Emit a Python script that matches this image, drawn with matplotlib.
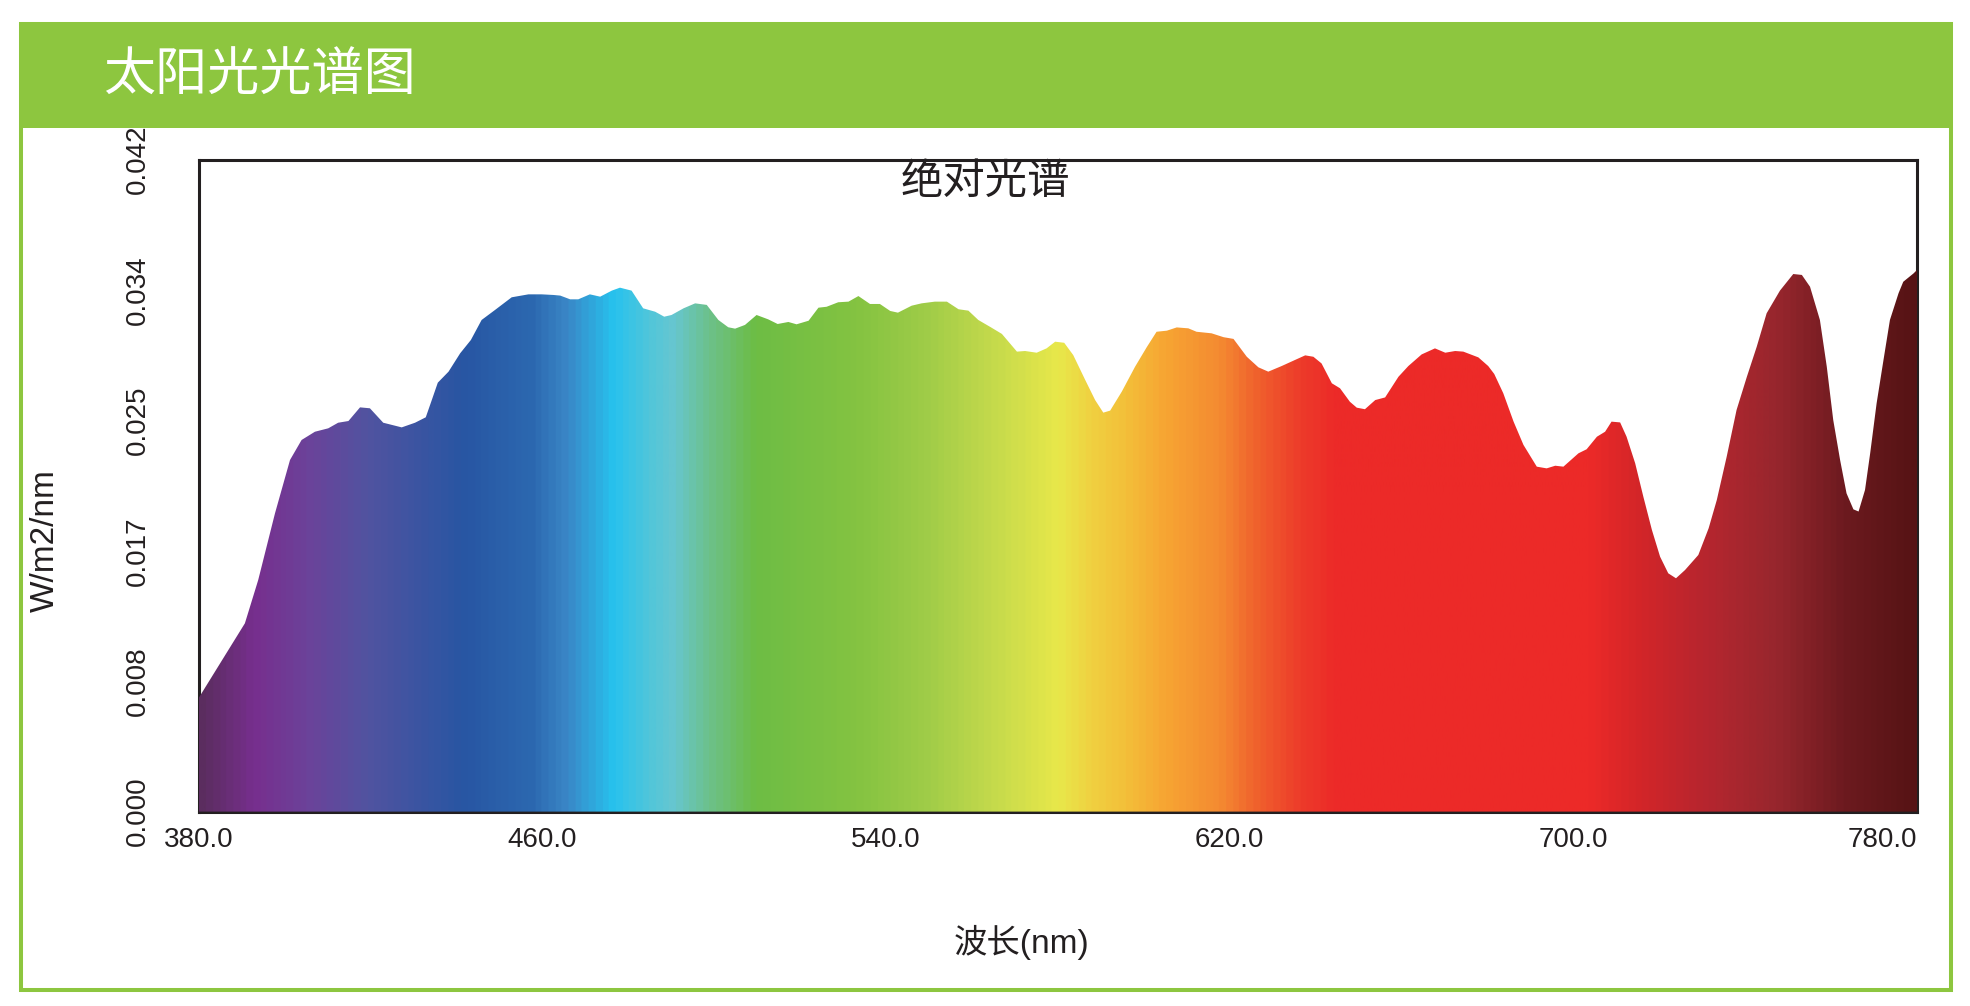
import numpy as np
import matplotlib
matplotlib.use("Agg")
import matplotlib.pyplot as plt
from matplotlib.colors import LinearSegmentedColormap
from matplotlib.patches import Polygon, Rectangle
from matplotlib.ticker import FormatStrFormatter

# Solar spectrum (nm, W/m2/nm)
wavelength = [
    380.0, 390.8, 393.9, 397.8, 401.3, 404.0, 407.1, 410.2, 412.5, 414.9,
    417.6, 419.9, 423.0, 427.3, 430.4, 432.9, 434.3, 435.7, 438.2, 440.9,
    443.4, 445.9, 449.0, 452.9, 456.8, 459.9, 462.6, 464.2, 466.5, 468.4,
    471.1, 473.5, 476.2, 478.1, 480.8, 483.5, 486.3, 488.4, 490.1, 492.9,
    495.6, 498.3, 501.0, 503.3, 504.9, 507.2, 509.9, 512.6, 514.8, 517.3,
    519.2, 522.0, 524.3, 526.2, 528.9, 531.3, 533.6, 536.3, 538.6, 541.0,
    542.8, 546.0, 548.3, 551.4, 554.2, 556.9, 559.2, 561.5, 564.6, 567.0,
    570.5, 572.4, 575.1, 577.4, 579.4, 581.5, 583.6, 586.4, 588.7, 590.6,
    592.2, 594.9, 598.0, 600.7, 603.0, 605.4, 607.7, 610.4, 612.3, 615.8,
    618.6, 620.9, 624.0, 626.7, 629.0, 632.1, 635.2, 637.6, 639.5, 641.4,
    643.8, 645.7, 648.0, 649.6, 651.5, 653.9, 656.2, 659.3, 661.6, 664.7,
    667.8, 670.2, 672.5, 674.4, 677.9, 680.2, 681.6, 683.7, 686.1, 688.4,
    691.5, 693.8, 695.8, 697.7, 701.2, 703.1, 705.5, 707.4, 708.9, 710.9,
    712.4, 714.4, 716.3, 718.3, 720.2, 722.1, 723.9, 726.0, 729.1, 731.5,
    733.4, 735.7, 738.0, 740.4, 742.7, 745.0, 748.1, 751.2, 753.2, 755.1,
    757.4, 759.0, 760.5, 762.1, 763.6, 765.2, 766.4, 767.9, 769.1, 770.6,
    772.2, 773.7, 775.7, 776.8, 779.2, 780.0,
]
irradiance = [
    0.00730, 0.01213, 0.01492, 0.01921, 0.02265, 0.02394, 0.02447, 0.02469, 0.02505, 0.02516,
    0.02604, 0.02598, 0.02505, 0.02475, 0.02505, 0.02540, 0.02651, 0.02763, 0.02834, 0.02952,
    0.03038, 0.03167, 0.03231, 0.03313, 0.03332, 0.03332, 0.03328, 0.03324, 0.03300, 0.03300,
    0.03332, 0.03317, 0.03356, 0.03375, 0.03356, 0.03242, 0.03220, 0.03188, 0.03199, 0.03242,
    0.03274, 0.03264, 0.03167, 0.03120, 0.03111, 0.03135, 0.03199, 0.03171, 0.03141, 0.03154,
    0.03139, 0.03162, 0.03246, 0.03252, 0.03281, 0.03285, 0.03321, 0.03270, 0.03270, 0.03225,
    0.03214, 0.03259, 0.03274, 0.03285, 0.03285, 0.03236, 0.03227, 0.03167, 0.03117, 0.03077,
    0.02963, 0.02967, 0.02956, 0.02984, 0.03027, 0.03020, 0.02941, 0.02780, 0.02651, 0.02570,
    0.02583, 0.02705, 0.02866, 0.02991, 0.03091, 0.03098, 0.03119, 0.03113, 0.03091, 0.03081,
    0.03056, 0.03045, 0.02930, 0.02862, 0.02834, 0.02870, 0.02909, 0.02939, 0.02930, 0.02887,
    0.02759, 0.02727, 0.02640, 0.02602, 0.02592, 0.02651, 0.02668, 0.02801, 0.02870, 0.02945,
    0.02984, 0.02956, 0.02967, 0.02963, 0.02926, 0.02870, 0.02819, 0.02695, 0.02512, 0.02362,
    0.02222, 0.02211, 0.02228, 0.02222, 0.02308, 0.02334, 0.02415, 0.02447, 0.02512, 0.02507,
    0.02415, 0.02244, 0.02029, 0.01814, 0.01642, 0.01535, 0.01503, 0.01556, 0.01653, 0.01825,
    0.02007, 0.02286, 0.02587, 0.02801, 0.02995, 0.03210, 0.03356, 0.03463, 0.03457, 0.03381,
    0.03167, 0.02866, 0.02523, 0.02265, 0.02050, 0.01947, 0.01933, 0.02072, 0.02308, 0.02630,
    0.02909, 0.03167, 0.03339, 0.03413, 0.03467, 0.03489,
]

x_ticks = [380, 460, 540, 620, 700, 780]
y_ticks = [0.0, 0.0084, 0.0168, 0.0252, 0.0336, 0.042]

# rainbow gradient under the curve
grad_nm = [380, 392, 405, 418, 441, 457, 465, 476, 484, 490, 498, 509, 533, 549,
           565, 580, 588, 595, 605, 618, 626, 637, 645, 704, 717, 733, 748, 764, 780]
grad_colors = ["#5b2d5f", "#772f8e", "#6b439a", "#5253a0", "#2856a3", "#2c68b0",
               "#3a86c6", "#27c2ee", "#4fc6db", "#66c6d0", "#6cc18e", "#6dbd45",
               "#84c341", "#9fcc48", "#c5da4c", "#e8e84a", "#f0d040", "#f3c13a",
               "#f7a533", "#f48a31", "#f0622d", "#ed3a2a", "#ec2a28", "#ec2a28",
               "#d12529", "#b3262f", "#97262d", "#6c1a1f", "#561315"]

green = "#8dc63f"
cjk = ["Noto Sans CJK SC", "DejaVu Sans"]
latin = ["Liberation Sans", "Noto Sans CJK SC"]

fig = plt.figure(figsize=(19.7, 10.06), dpi=100)
ax = fig.add_axes([198.5 / 1970, 1 - 811.6 / 1006, (1917 - 198.5) / 1970, (811.6 - 159.6) / 1006])

stops = [(w - 380) / 400 for w in grad_nm]
cmap = LinearSegmentedColormap.from_list("spec", list(zip(stops, grad_colors)))
grad = np.linspace(380, 780, 1200).reshape(1, -1)
im = ax.imshow(grad, cmap=cmap, vmin=380, vmax=780, aspect="auto",
               extent=[380, 780, 0, 0.042], origin="lower", zorder=3)

verts = list(zip(wavelength, irradiance)) + [(780, 0), (380, 0)]
clip = Polygon(verts, closed=True, facecolor="none", edgecolor="none", transform=ax.transData)
ax.add_patch(clip)
im.set_clip_path(clip)

ax.set_xlim(380, 780)
ax.set_ylim(0, 0.042)
ax.set_xticks(x_ticks)
ax.set_yticks(y_ticks)
ax.xaxis.set_major_formatter(FormatStrFormatter("%.1f"))
ax.yaxis.set_major_formatter(FormatStrFormatter("%.3f"))
ax.tick_params(axis="both", length=0, labelsize=20, labelcolor="#231f20")
ax.tick_params(axis="x", pad=11)
ax.tick_params(axis="y", pad=34)
for lab in ax.get_xticklabels() + ax.get_yticklabels():
    lab.set_fontfamily(latin)
for lab in ax.get_yticklabels():
    lab.set_rotation(90)
    lab.set_va("center")
ax.get_xticklabels()[-1].set_ha("right")
for sp in ax.spines.values():
    sp.set_color("#231f20")
    sp.set_linewidth(2.2)

fig.text(985 / 1970, 1 - 182 / 1006, "绝对光谱", ha="center", va="center",
         fontsize=30.5, family=cjk, fontweight="light", color="#231f20")
fig.text(1022 / 1970, 1 - 942 / 1006, "波长(nm)", ha="center", va="center",
         fontsize=24, family=latin, color="#231f20")
fig.text(45 / 1970, 1 - 541 / 1006, "W/m2/nm", ha="center", va="center",
         rotation=90, fontsize=24, family=latin, color="#231f20")

# green frame and header band
fig.add_artist(Rectangle((21 / 1970, 1 - 990 / 1006), (1951 - 21) / 1970, (990 - 24) / 1006,
                         transform=fig.transFigure, fill=False, edgecolor=green,
                         linewidth=2.9, zorder=4))
fig.add_artist(Rectangle((19 / 1970, 1 - 128 / 1006), (1953 - 19) / 1970, (128 - 24) / 1006,
                         transform=fig.transFigure, facecolor=green, edgecolor="none", zorder=5))
fig.text(103 / 1970, 1 - 76.5 / 1006, "太阳光光谱图", ha="left", va="center",
         fontsize=37.5, family=cjk, color="white", zorder=6)

fig.savefig("out.png", dpi=100, facecolor="white")
